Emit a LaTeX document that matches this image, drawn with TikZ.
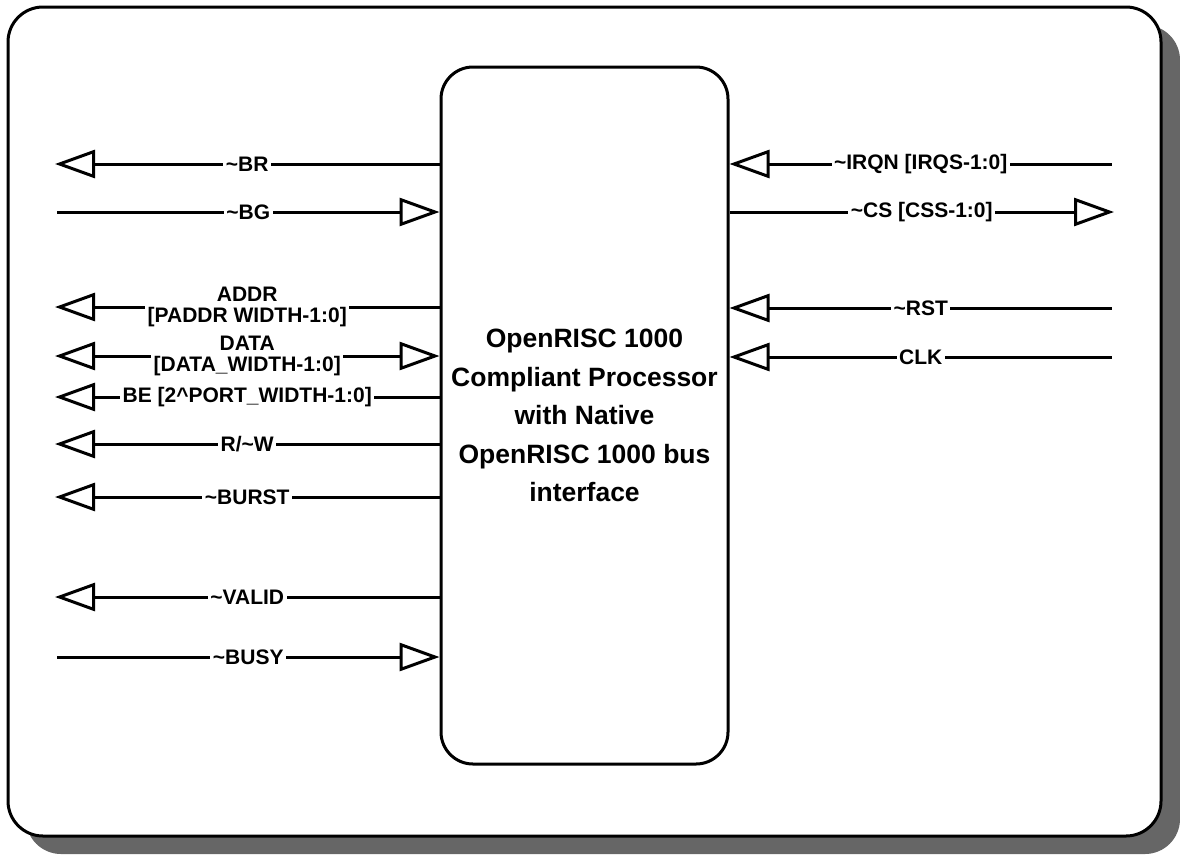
\documentclass[tikz,border=0pt]{standalone}
\usepackage{fontspec}
\setmainfont{Liberation Sans}
\usetikzlibrary{arrows.meta}
\definecolor{shadowgray}{HTML}{666666}
\tikzset{
  oarr/.tip={Triangle[open,length=40pt,width=28pt,fill=white]},
  wire/.style={line width=3pt, line join=miter},
  lbl/.style={fill=white, inner sep=2.5pt, align=center, font=\fontsize{21}{21}\selectfont\bfseries},
  cpubox/.style={draw, line width=3pt, rounded corners=32pt, minimum width=287pt, minimum height=697pt, inner sep=0pt, align=center, font=\fontsize{26.5}{38.5}\selectfont\bfseries}
}
\begin{document}
\begin{tikzpicture}[x=1pt,y=-1pt]
\useasboundingbox (0,0) rectangle (1180,854);
% frame with shadow
\fill[shadowgray, rounded corners=35pt] (26,25) rectangle (1180,854);
\draw[fill=white, line width=3pt, rounded corners=35pt] (8,7) rectangle (1161,836);
% processor
\node[cpubox] (cpu) at (584.5,415.5) {OpenRISC 1000\\Compliant Processor\\with Native\\OpenRISC 1000 bus\\interface};
% left port ends
\coordinate (pBR) at (55,164);
\coordinate (pBG) at (57,212);
\coordinate (pADDR) at (55,307);
\coordinate (pDATA) at (55,356);
\coordinate (pBE) at (55,397);
\coordinate (pRW) at (55,444);
\coordinate (pBURST) at (55,497);
\coordinate (pVALID) at (55,597);
\coordinate (pBUSY) at (57,657);
% right port ends
\coordinate (pIRQN) at (1112,164);
\coordinate (pCS) at (1114,212);
\coordinate (pRST) at (1112,308);
\coordinate (pCLK) at (1112,357);
% left signals
\draw[wire, oarr-] (pBR) -- node[lbl]{\textasciitilde BR} (pBR -| cpu.west);
\draw[wire, -oarr] (pBG) -- node[lbl]{\textasciitilde BG} (pBG -| cpu.west);
\draw[wire, oarr-] (pADDR) -- node[lbl]{ADDR\\{}[PADDR WIDTH-1:0]} (pADDR -| cpu.west);
\draw[wire, oarr-oarr] (pDATA) -- node[lbl]{DATA\\{}[DATA\_WIDTH-1:0]} (pDATA -| cpu.west);
\draw[wire, oarr-] (pBE) -- node[lbl]{BE [2\textasciicircum PORT\_WIDTH-1:0]} (pBE -| cpu.west);
\draw[wire, oarr-] (pRW) -- node[lbl]{R/\textasciitilde W} (pRW -| cpu.west);
\draw[wire, oarr-] (pBURST) -- node[lbl]{\textasciitilde BURST} (pBURST -| cpu.west);
\draw[wire, oarr-] (pVALID) -- node[lbl]{\textasciitilde VALID} (pVALID -| cpu.west);
\draw[wire, -oarr] (pBUSY) -- node[lbl]{\textasciitilde BUSY} (pBUSY -| cpu.west);
% right signals
\draw[wire, oarr-] (pIRQN -| cpu.east) -- node[lbl]{\textasciitilde IRQN [IRQS-1:0]} (pIRQN);
\draw[wire, -oarr] (pCS -| cpu.east) -- node[lbl]{\textasciitilde CS [CSS-1:0]} (pCS);
\draw[wire, oarr-] (pRST -| cpu.east) -- node[lbl]{\textasciitilde RST} (pRST);
\draw[wire, oarr-] (pCLK -| cpu.east) -- node[lbl]{CLK} (pCLK);
\end{tikzpicture}
\end{document}
